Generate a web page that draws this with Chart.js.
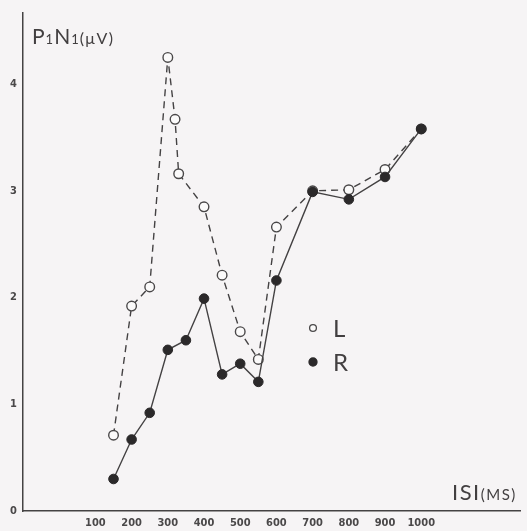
<!DOCTYPE html>
<html>
<head>
<meta charset="utf-8">
<script src="https://cdn.jsdelivr.net/npm/chart.js@4"></script>
<style>
  html, body { margin: 0; padding: 0; background: #f6f4f5; }
  #wrap { width: 527px; height: 531px; }
</style>
</head>
<body>
<div id="wrap"><canvas id="c" width="527" height="531"></canvas></div>
<script>
// Inter-stimulus interval (ms) and P1N1 amplitude (µV), left and right
const isiL = [150, 200, 250, 300, 320, 330, 400, 450, 500, 550, 600, 700, 800, 900, 1000];
const ampL = [0.71, 1.92, 2.10, 4.25, 3.67, 3.16, 2.85, 2.21, 1.68, 1.42, 2.66, 3.00, 3.01, 3.20, 3.58];
const isiR = [150, 200, 250, 300, 350, 400, 450, 500, 550, 600, 700, 800, 900, 1000];
const ampR = [0.30, 0.67, 0.92, 1.51, 1.60, 1.99, 1.28, 1.38, 1.21, 2.16, 2.99, 2.92, 3.13, 3.58];
const xTicks = [100, 200, 300, 400, 500, 600, 700, 800, 900, 1000];
const yTicks = [0, 1, 2, 3, 4];
const seriesNames = ['L', 'R'];

const INK = '#444243';
const TEXT = '#423f40';
const DARK = '#2b292a';
const BG = '#f6f4f5';
const SANS = 'Lato, "DejaVu Sans", sans-serif';

const toPoints = (xs, ys) => xs.map((x, i) => ({ x, y: ys[i] }));

const paper = {
  id: 'paper',
  beforeDraw(chart) {
    const ctx = chart.ctx;
    ctx.save();
    ctx.fillStyle = BG;
    ctx.fillRect(0, 0, chart.width, chart.height);
    ctx.restore();
  }
};

// Writes a run of [text, font, spacing] pieces from x on one baseline
function writeRun(ctx, pieces, x, baseline) {
  for (const [t, f, sp] of pieces) {
    ctx.font = f;
    ctx.letterSpacing = (sp || 0) + 'px';
    ctx.fillText(t, x, baseline);
    x += ctx.measureText(t).width;
  }
  ctx.letterSpacing = '0px';
  return x;
}

// Axis titles and the in-plot key
const annotations = {
  id: 'annotations',
  afterDraw(chart) {
    const ctx = chart.ctx;
    const area = chart.chartArea;
    ctx.save();
    ctx.fillStyle = TEXT;
    ctx.textBaseline = 'alphabetic';
    ctx.textAlign = 'left';

    // y title: P1N1(µV)
    writeRun(ctx, [
      ['P', '400 21px ' + SANS, 1],
      ['1', '400 13px ' + SANS, 1],
      ['N', '400 21px ' + SANS, 1],
      ['1', '400 13px ' + SANS, 1],
      ['(\u03bcV)', '400 16px ' + SANS, 1.5]
    ], area.left + 9, 44);

    // x title: ISI(MS)
    writeRun(ctx, [
      ['ISI', '400 22px ' + SANS, 1.5],
      ['(MS)', '400 15px ' + SANS, 1.5]
    ], 452, 500);

    // key
    const keyX = 313;
    const rows = [328, 362];
    chart.data.datasets.forEach((ds, i) => {
      const cy = rows[i];
      ctx.beginPath();
      ctx.arc(keyX, cy, i === 0 ? 3.4 : 4, 0, Math.PI * 2);
      ctx.fillStyle = ds.pointBackgroundColor;
      ctx.fill();
      ctx.lineWidth = 1.3;
      ctx.strokeStyle = ds.pointBorderColor;
      ctx.stroke();
      ctx.fillStyle = TEXT;
      ctx.font = '400 24px ' + SANS;
      ctx.textBaseline = 'middle';
      ctx.fillText(ds.label, keyX + 20, cy + 1);
    });
    ctx.restore();
  }
};

const tickFont = { family: '"DejaVu Sans Condensed", "Liberation Sans Narrow", sans-serif', size: 11, weight: 'bold' };

new Chart(document.getElementById('c'), {
  type: 'line',
  data: {
    datasets: [
      {
        label: seriesNames[0],
        data: toPoints(isiL, ampL),
        borderColor: INK,
        borderWidth: 1.4,
        borderDash: [7, 5],
        pointRadius: 4.8,
        pointBorderWidth: 1.4,
        pointBackgroundColor: '#fbfafa',
        pointBorderColor: '#4a4849',
        tension: 0,
        order: 1
      },
      {
        label: seriesNames[1],
        data: toPoints(isiR, ampR),
        borderColor: INK,
        borderWidth: 1.4,
        pointRadius: 4.8,
        pointBorderWidth: 1,
        pointBackgroundColor: DARK,
        pointBorderColor: DARK,
        tension: 0,
        order: 0
      }
    ]
  },
  options: {
    responsive: false,
    animation: false,
    layout: { padding: { top: 12, right: 5, left: 0, bottom: 0 } },
    plugins: { legend: { display: false }, tooltip: { enabled: false } },
    scales: {
      x: {
        type: 'linear',
        min: -100,
        max: 1275,
        grid: { display: false, drawTicks: false },
        border: { display: true, color: INK, width: 1.5 },
        afterBuildTicks: s => { s.ticks = xTicks.map(v => ({ value: v })); },
        afterFit: s => { s.height = 20; },
        ticks: {
          autoSkip: false,
          maxRotation: 0,
          padding: 6,
          color: '#4a4849',
          font: tickFont,
          callback: v => String(v)
        }
      },
      y: {
        min: 0,
        max: 4.67,
        grid: { display: false, drawTicks: false },
        border: { display: true, color: INK, width: 1.5 },
        afterBuildTicks: s => { s.ticks = yTicks.map(v => ({ value: v })); },
        afterFit: s => { s.width = 23; },
        ticks: {
          padding: 6,
          color: '#4a4849',
          font: tickFont,
          callback: v => String(v)
        }
      }
    }
  },
  plugins: [paper, annotations]
});
</script>
</body>
</html>
